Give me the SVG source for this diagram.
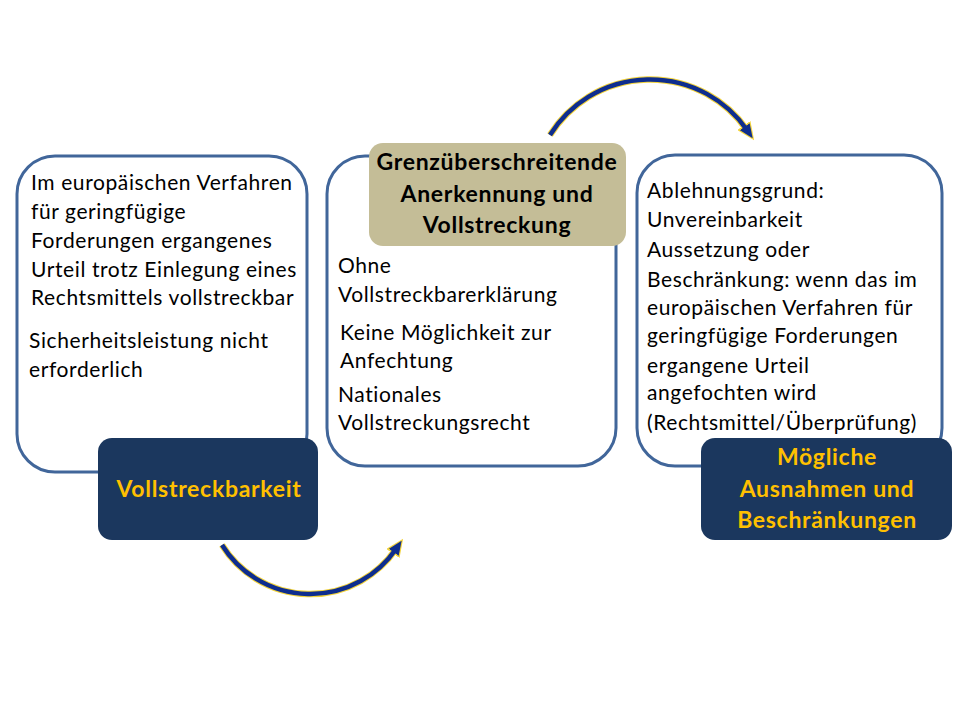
<svg xmlns="http://www.w3.org/2000/svg" width="960" height="720" viewBox="0 0 960 720">
<defs>
<style>
.outline{fill:#fff;stroke:#41669A;stroke-width:3}
.dark{fill:#1B375E}
.tan{fill:#C4BD97}
.t{font-family:Lato,"Liberation Sans",sans-serif;font-size:21px;letter-spacing:0.6px;fill:#000}
.tb{font-family:Lato,"Liberation Sans",sans-serif;font-size:23px;letter-spacing:0.7px;font-weight:bold;fill:#000;text-anchor:middle}
.ty{font-family:Lato,"Liberation Sans",sans-serif;font-size:23px;letter-spacing:0.7px;font-weight:bold;fill:#FFC000;text-anchor:middle}
.glow{fill:none;stroke:#F2D23A;stroke-width:6.5}
.arc{fill:none;stroke:#0E2D8E;stroke-width:4.5}
</style>
<marker id="hy" markerUnits="userSpaceOnUse" markerWidth="18" markerHeight="16" refX="5.5" refY="8" orient="auto" viewBox="0 0 18 16"><path d="M0,0 L18,8 L0,16 Z" fill="#F2D23A"/></marker>
<marker id="hb" markerUnits="userSpaceOnUse" markerWidth="14" markerHeight="12" refX="4" refY="6" orient="auto" viewBox="0 0 14 12"><path d="M0,0 L14,6 L0,12 Z" fill="#0E2D8E"/></marker>
</defs>
<rect width="960" height="720" fill="#fff"/>
<g id="connectors">
<path class="glow" d="M222,545 A104,104 0 0 0 396,549" marker-end="url(#hy)"/>
<path class="arc" d="M222,545 A104,104 0 0 0 396,549" marker-end="url(#hb)"/>
<path class="glow" d="M550,135 A118,118 0 0 1 747,130" marker-end="url(#hy)"/>
<path class="arc" d="M550,135 A118,118 0 0 1 747,130" marker-end="url(#hb)"/>
</g>
<g id="box-left">
<rect class="outline" x="17" y="156" width="290" height="316" rx="38"/>
<text class="t" x="31" y="190">Im europäischen Verfahren</text>
<text class="t" x="31" y="219">für geringfügige</text>
<text class="t" x="31" y="248">Forderungen ergangenes</text>
<text class="t" x="31" y="277">Urteil trotz Einlegung eines</text>
<text class="t" x="31" y="305">Rechtsmittels vollstreckbar</text>
<text class="t" x="29" y="348">Sicherheitsleistung nicht</text>
<text class="t" x="29" y="377">erforderlich</text>
</g>
<g id="label-left">
<rect class="dark" x="98" y="438" width="220" height="102" rx="14"/>
<text class="ty" x="209" y="497">Vollstreckbarkeit</text>
</g>
<g id="box-center">
<rect class="outline" x="327" y="156" width="289" height="310" rx="38"/>
<text class="t" x="338" y="273">Ohne</text>
<text class="t" x="338" y="302">Vollstreckbarerklärung</text>
<text class="t" x="340" y="340">Keine Möglichkeit zur</text>
<text class="t" x="340" y="368">Anfechtung</text>
<text class="t" x="338" y="402">Nationales</text>
<text class="t" x="338" y="430">Vollstreckungsrecht</text>
</g>
<g id="label-center">
<rect class="tan" x="369" y="143" width="257" height="103" rx="14"/>
<text class="tb" x="497" y="170">Grenzüberschreitende</text>
<text class="tb" x="497" y="202">Anerkennung und</text>
<text class="tb" x="497" y="233">Vollstreckung</text>
</g>
<g id="box-right">
<rect class="outline" x="637" y="155" width="305" height="311" rx="38"/>
<text class="t" x="647" y="198">Ablehnungsgrund:</text>
<text class="t" x="647" y="227">Unvereinbarkeit</text>
<text class="t" x="647" y="257">Aussetzung oder</text>
<text class="t" x="647" y="287">Beschränkung: wenn das im</text>
<text class="t" x="647" y="315">europäischen Verfahren für</text>
<text class="t" x="647" y="343">geringfügige Forderungen</text>
<text class="t" x="647" y="373">ergangene Urteil</text>
<text class="t" x="647" y="400">angefochten wird</text>
<text class="t" x="647" y="430">(Rechtsmittel/Überprüfung)</text>
</g>
<g id="label-right">
<rect class="dark" x="701" y="438" width="251" height="102" rx="14"/>
<text class="ty" x="827" y="465">Mögliche</text>
<text class="ty" x="827" y="497">Ausnahmen und</text>
<text class="ty" x="827" y="528">Beschränkungen</text>
</g>
</svg>
